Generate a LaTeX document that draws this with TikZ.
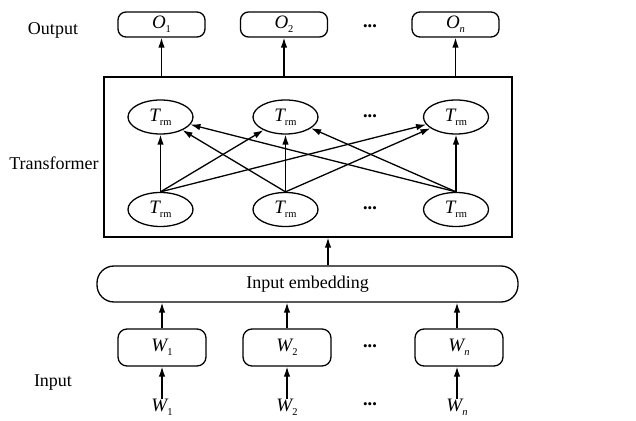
\documentclass[tikz,border=0pt]{standalone}
\usepackage{fontspec}
\setmainfont{Liberation Serif}
\usetikzlibrary{shapes.geometric,arrows.meta}
\newcommand{\sym}[2]{{\fontsize{19pt}{19pt}\selectfont\itshape #1}\raisebox{-0.5ex}{\fontsize{10.5pt}{10.5pt}\selectfont #2}}
\newcommand{\dts}{{\fontsize{13pt}{13pt}\selectfont •••}}
\begin{document}
\begin{tikzpicture}[x=1pt,y=1pt,
  every node/.style={font=\fontsize{18pt}{20pt}\selectfont},
  obox/.style={draw,line width=1.3pt,rounded corners=8pt,minimum width=87pt,minimum height=25pt,inner sep=0pt},
  wbox/.style={draw,line width=1.3pt,rounded corners=9pt,minimum width=88pt,minimum height=37pt,inner sep=0pt},
  trm/.style={draw,line width=1.3pt,ellipse,minimum width=65pt,minimum height=34pt,inner sep=0pt},
  conn/.style={line width=1.3pt,-{Latex[length=10pt,width=6.5pt]}},
  lab/.style={inner sep=0pt}]
\useasboundingbox (0,0) rectangle (636,420);
% labels
\node[lab] (lout) at (53,390) {Output};
\node[lab] (ltr) at (54,257) {Transformer};
\node[lab] (lin) at (53,37) {Input};
% output boxes
\node[obox] (o1) at (161.5,395.5) {\sym{O}{1}};
\node[obox] (o2) at (284,395.5) {\sym{O}{2}};
\node[obox] (on) at (455.5,395.5) {\sym{O}{\itshape n}};
\node[lab] (od) at (370,392) {\dts};
% transformer box
\node[draw,line width=1.3pt,minimum width=408pt,minimum height=160pt,inner sep=0pt] (tbox) at (308,263) {};
\node[trm] (t1) at (160.5,303) {\sym{T}{rm}};
\node[trm] (t2) at (285.5,303) {\sym{T}{rm}};
\node[trm] (t3) at (456,303) {\sym{T}{rm}};
\node[lab] (td) at (370,302) {\dts};
\node[trm] (b1) at (160.5,210.5) {\sym{T}{rm}};
\node[trm] (b2) at (285.5,210.5) {\sym{T}{rm}};
\node[trm] (b3) at (456,210.5) {\sym{T}{rm}};
\node[lab] (bd) at (370,210) {\dts};
% embedding
\node[draw,line width=1.3pt,rounded corners=17pt,minimum width=421pt,minimum height=36pt,inner sep=0pt] (emb) at (307.5,136) {Input embedding};
% W boxes
\node[wbox] (w1) at (162,72.5) {\sym{W}{1}};
\node[wbox] (w2) at (287,72.5) {\sym{W}{2}};
\node[wbox] (wn) at (459,72.5) {\sym{W}{\itshape n}};
\node[lab] (wd) at (370,72) {\dts};
% input labels
\node[lab] (i1) at (162,13) {\sym{W}{1}};
\node[lab] (i2) at (287,13) {\sym{W}{2}};
\node[lab] (in) at (457,13) {\sym{W}{\itshape n}};
\node[lab] (id) at (370,14) {\dts};
% connectors
\draw[conn] (i1.north) -- (w1.south);
\draw[conn] (i2.north) -- (w2.south);
\draw[conn] (in.north) -- (wn.south -| in.north);
\draw[conn] (w1.north) -- (emb.south -| w1.north);
\draw[conn] (w2.north) -- (emb.south -| w2.north);
\draw[conn] (wn.north -| in.north) -- (emb.south -| in.north);
\draw[conn] (emb.north -| 328,0) -- (tbox.south -| 328,0);
\foreach \b in {b1,b2,b3}{
  \foreach \t in {t1,t2,t3}{
    \draw[conn] (\b.north) -- (\t);
  }
}
\draw[conn] (tbox.north -| o1.south) -- (o1.south);
\draw[conn] (tbox.north -| o2.south) -- (o2.south);
\draw[conn] (tbox.north -| on.south) -- (on.south);
\end{tikzpicture}
\end{document}
